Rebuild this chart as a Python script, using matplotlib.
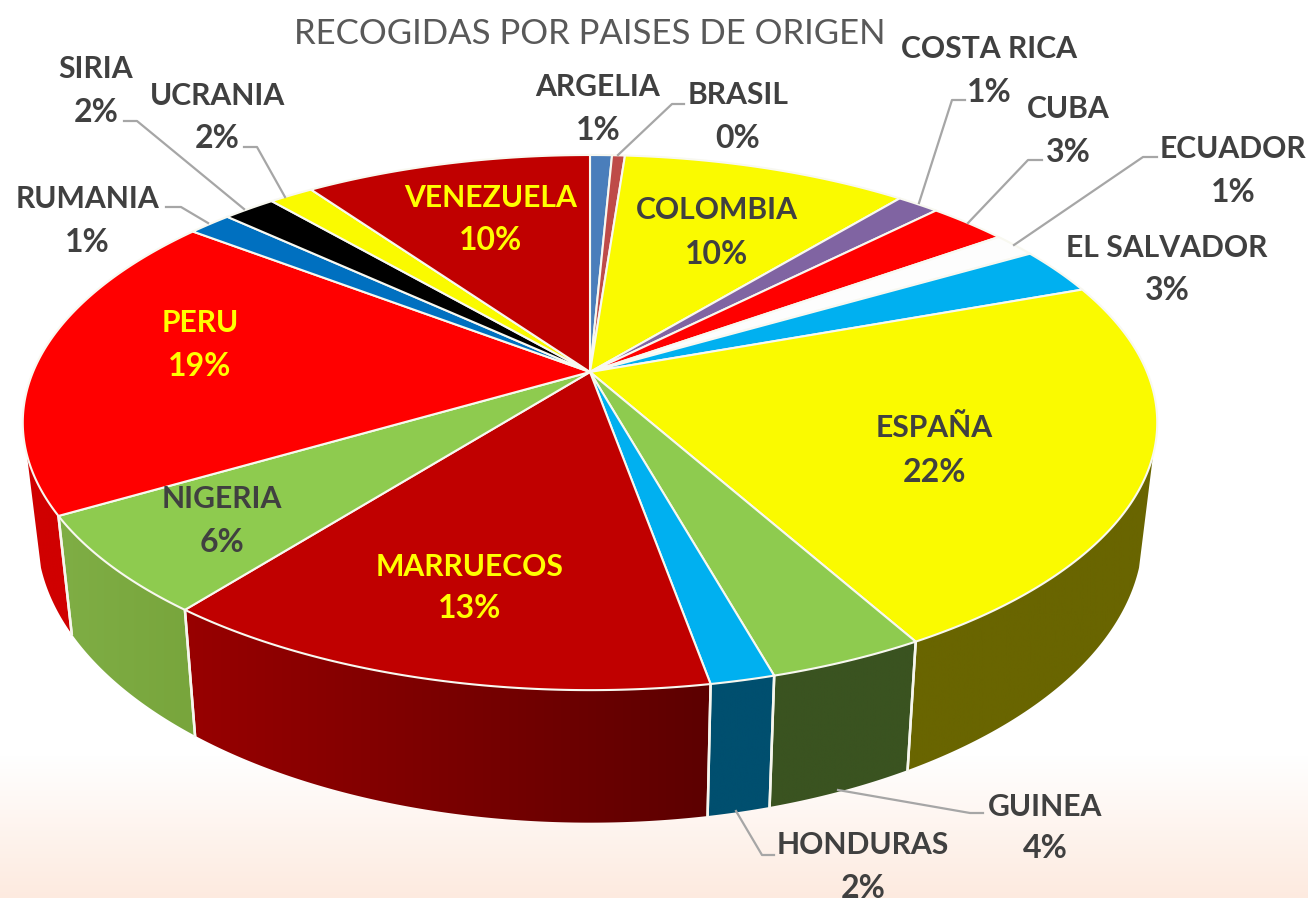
import numpy as np
import matplotlib
matplotlib.use('Agg')
import matplotlib.pyplot as plt
from matplotlib.colors import to_rgb
from matplotlib.patches import Polygon

# data (label shows the rounded share)
countries = ['ARGELIA', 'BRASIL', 'COLOMBIA', 'COSTA RICA', 'CUBA', 'ECUADOR', 'EL SALVADOR',
             'ESPAÑA', 'GUINEA', 'HONDURAS', 'MARRUECOS', 'NIGERIA', 'PERU', 'RUMANIA',
             'SIRIA', 'UCRANIA', 'VENEZUELA']
shares = [0.75, 0.44, 9.8, 1.45, 2.7, 1.49, 2.85, 22.4, 3.76, 1.54, 13.45, 5.95, 18.8, 1.49, 1.8, 1.52, 9.81]
title = 'RECOGIDAS POR PAISES DE ORIGEN'

# styles
top_colors = ['#4a7ebb', '#be4b48', '#fafa00', '#8064a2', '#ff0000', '#fdfdfd', '#00b0f0',
              '#fafa00', '#8ecb4f', '#00b0f0', '#c00000', '#8ecb4f', '#ff0000', '#0070c0',
              '#000000', '#fafa00', '#c00000']
# wall colours (left, right of the gradient) for the slices that show a side
walls = {'ESPAÑA': ('#696500', '#696500'), 'GUINEA': ('#3a5320', '#3a5320'),
         'HONDURAS': ('#004f6f', '#004f6f'), 'MARRUECOS': ('#980000', '#5c0000'),
         'NIGERIA': ('#7fae45', '#78a53c'), 'PERU': ('#d00000', '#d00000')}
yellow_text = ['MARRUECOS', 'PERU', 'VENEZUELA']

# label centres: x, y of the name, y of the percentage
label_pos = {'ARGELIA': (598, 87, 130), 'BRASIL': (738, 95, 138), 'COLOMBIA': (717, 210, 254),
             'COSTA RICA': (989, 49, 93), 'CUBA': (1068, 109, 152), 'ECUADOR': (1233, 149, 192),
             'EL SALVADOR': (1167, 248, 291), 'ESPAÑA': (934, 428, 472), 'GUINEA': (1045, 807, 849),
             'HONDURAS': (863, 845, 889), 'MARRUECOS': (470, 567, 609), 'NIGERIA': (222, 499, 543),
             'PERU': (200, 323, 366), 'RUMANIA': (87, 199, 243), 'SIRIA': (96, 69, 112),
             'UCRANIA': (217, 96, 139), 'VENEZUELA': (491, 198, 241)}
leaders = [[(618, 155), (672, 104), (684, 104)],
           [(919, 203), (952, 100), (965, 100)],
           [(968, 223), (1028, 160), (1042, 160)],
           [(1014, 245), (1143, 157), (1157, 157)],
           [(838, 790), (970, 813), (983, 813)],
           [(736, 811), (762, 855), (774, 855)],
           [(208, 223), (181, 207), (166, 207)],
           [(244, 209), (137, 121), (124, 121)],
           [(285, 197), (257, 147), (244, 147)]]

# perspective of the disc: apex position and size in pixels
cx, cy = 590, 372
a, b, k = 258, 557, 0.189
# part of the rim that has a visible side
front_from, front_to = np.radians(107.6), np.radians(252.4)


def top_rim(theta):
    # theta runs clockwise from the top of the disc
    x = np.sin(theta)
    y = np.cos(theta)
    w = 1 + k * y
    return cx + b * x / w, cy - a * y / w


def bottom_rim(theta):
    X, Y = top_rim(theta)
    return cx + (X - cx) * 0.975, 633 + 1.083 * (Y - 515)


fig = plt.figure(figsize=(13.08, 8.98), dpi=100)
ax = fig.add_axes([0, 0, 1, 1])
ax.axis('off')

# page background, white fading to peach at the bottom
fade = np.ones((898, 1, 3))
peach = np.array(to_rgb('#fdeadf'))
for row in range(755, 898):
    fade[row, 0] = 1 + (peach - 1) * (row - 755) / 143
ax.imshow(fade, extent=(0, 1308, 898, 0), aspect='auto', zorder=0)

edges = np.cumsum([0] + shares) / sum(shares) * 2 * np.pi

# side walls first, the disc goes on top of them
for name in ['PERU', 'NIGERIA', 'ESPAÑA', 'GUINEA', 'HONDURAS', 'MARRUECOS']:
    i = countries.index(name)
    t = np.linspace(max(edges[i], front_from), min(edges[i + 1], front_to), 200)
    xt, yt = top_rim(t)
    xb, yb = bottom_rim(t)
    pts = np.column_stack([np.r_[xt, xb[::-1]], np.r_[yt, yb[::-1]]])
    left, right = walls[name]
    grad = np.linspace(to_rgb(left), to_rgb(right), 256).reshape(1, 256, 3)
    poly = Polygon(pts, closed=True, facecolor='none', edgecolor='none', zorder=2)
    ax.add_patch(poly)
    im = ax.imshow(grad, extent=(pts[:, 0].min(), pts[:, 0].max(), pts[:, 1].max(), pts[:, 1].min()),
                   aspect='auto', zorder=2)
    im.set_clip_path(poly)
    # white seams at the slice edges
    for e in (edges[i], edges[i + 1]):
        if front_from < e < front_to:
            xe, ye = top_rim(e)
            xf, yf = bottom_rim(e)
            ax.plot([xe, xf], [ye, yf], color='#f6f6ee', lw=1.8, zorder=3)

# top of the disc
for i, name in enumerate(countries):
    t = np.linspace(edges[i], edges[i + 1], 200)
    xt, yt = top_rim(t)
    pts = np.column_stack([np.r_[cx, xt], np.r_[cy, yt]])
    ax.add_patch(Polygon(pts, closed=True, facecolor=top_colors[i], edgecolor='#f8f8f0',
                         lw=1.5, joinstyle='round', zorder=4))

# leader lines
for line in leaders:
    xs, ys = zip(*line)
    ax.plot(xs, ys, color='#a6a6a6', lw=1.6, zorder=5, solid_joinstyle='round')

# labels
for i, name in enumerate(countries):
    x, y1, y2 = label_pos[name]
    col = '#ffff00' if name in yellow_text else '#404040'
    pct = str(int(round(shares[i]))) + '%'
    ax.text(x, y1, name, ha='center', va='center', color=col, fontsize=21.7, family='Lato',
            fontweight='bold', zorder=6)
    ax.text(x, y2, pct, ha='center', va='center', color=col, fontsize=23, family='Lato',
            fontweight='bold', zorder=6)

ax.text(590, 34, title, ha='center', va='center', color='#595959', fontsize=25, family='Lato', zorder=6)

ax.set_xlim(0, 1308)
ax.set_ylim(898, 0)
fig.savefig('out.png', dpi=100)
